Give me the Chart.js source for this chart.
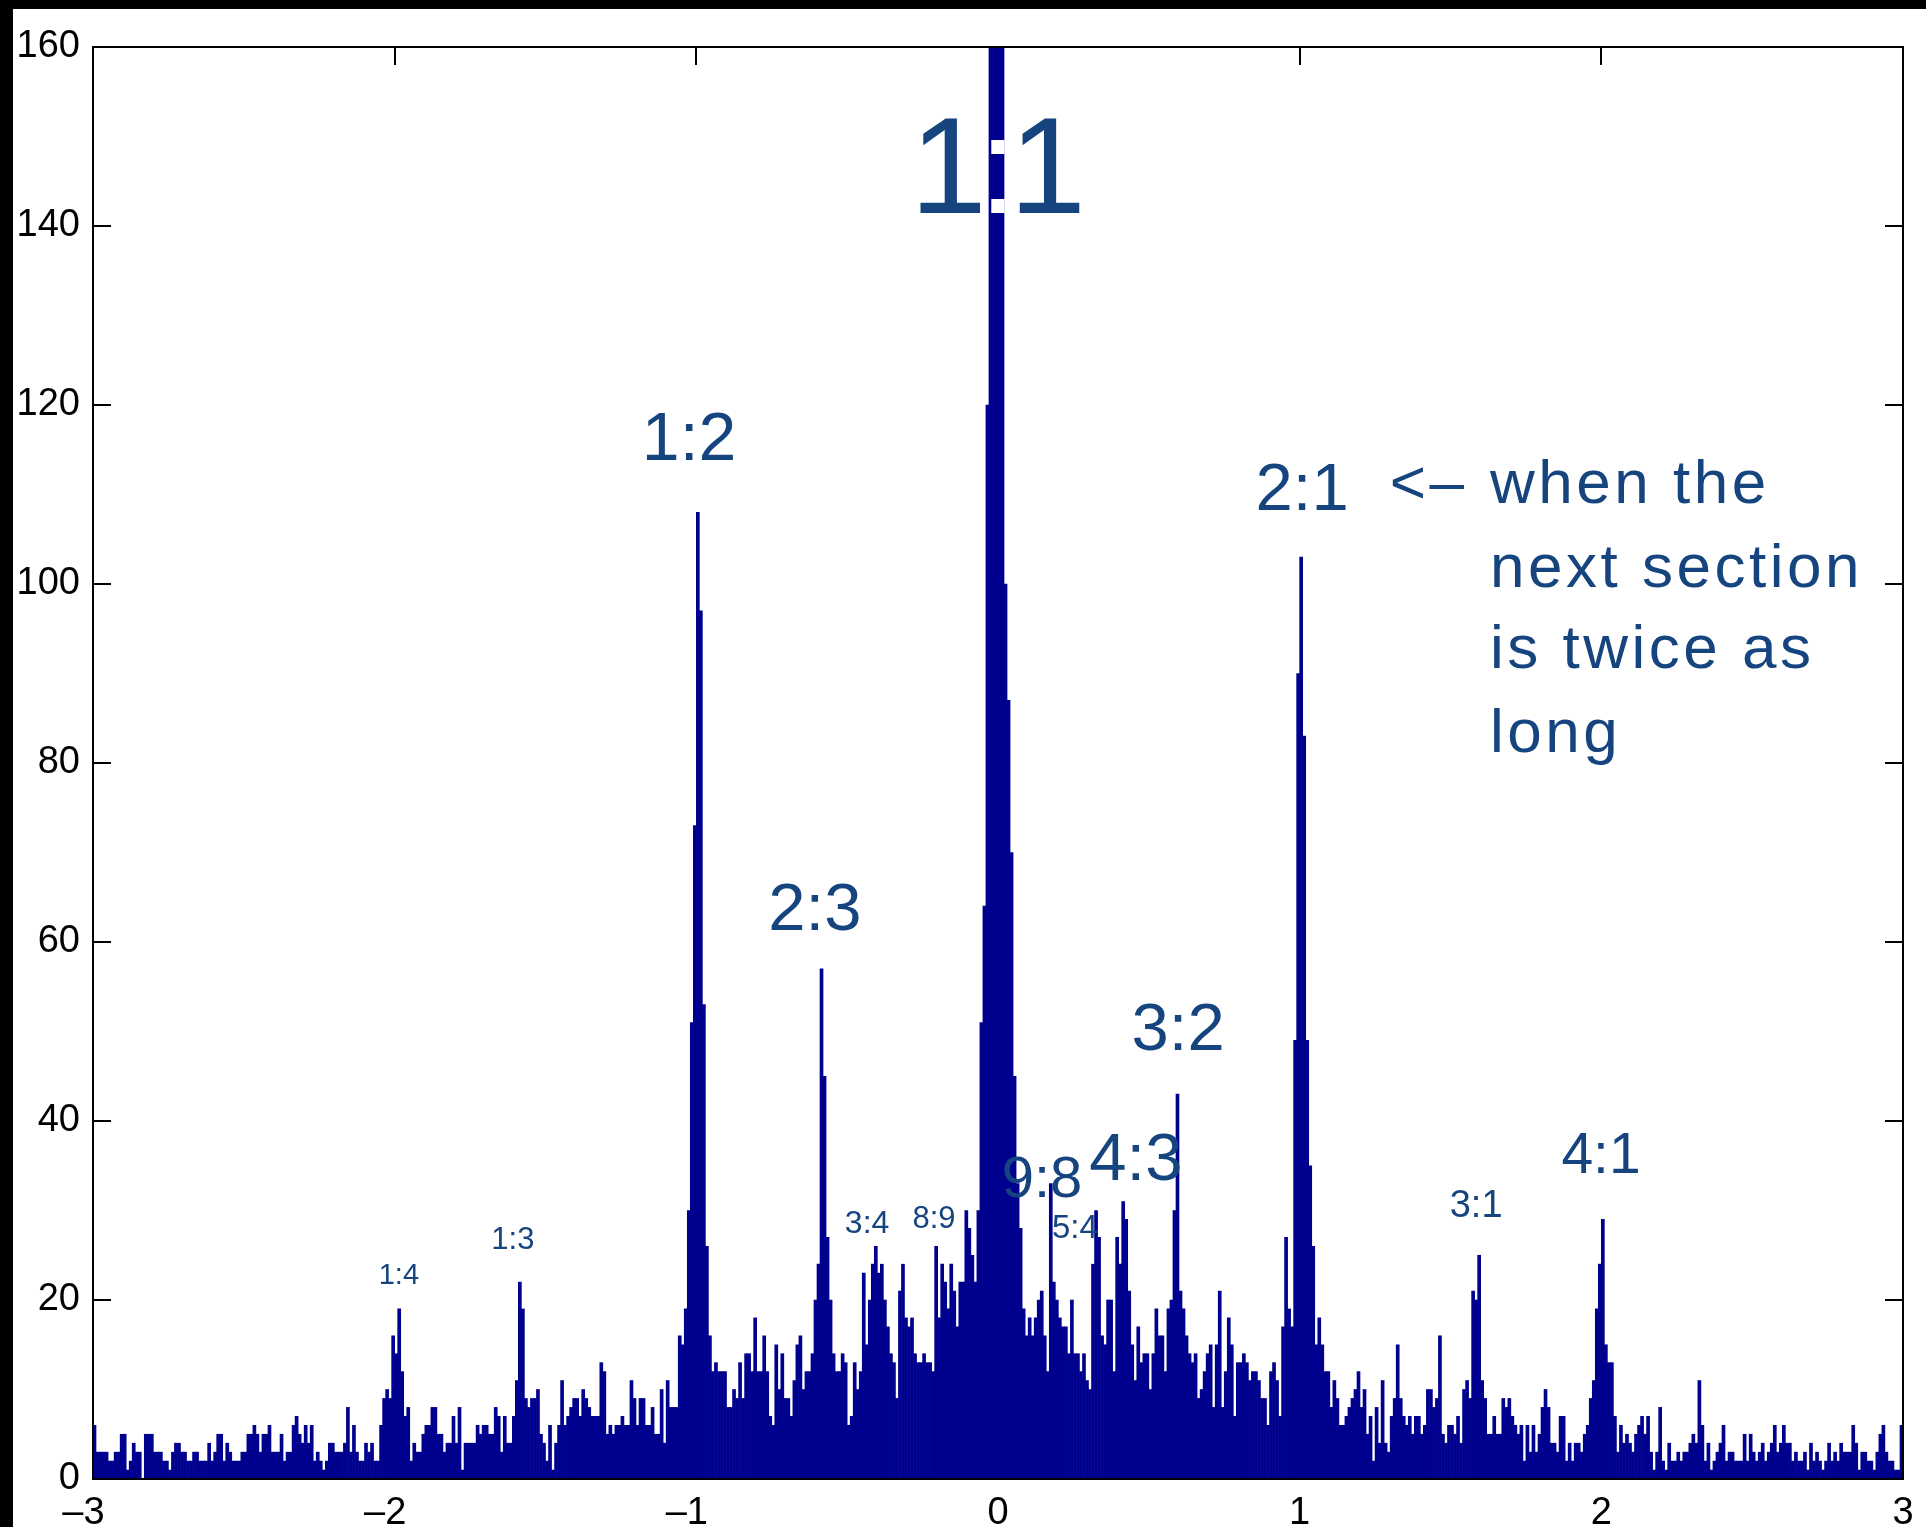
<!DOCTYPE html>
<html>
<head>
<meta charset="utf-8">
<script src="https://cdn.jsdelivr.net/npm/chart.js@4.4.1/dist/chart.umd.min.js"></script>
<style>
  html, body { margin: 0; padding: 0; background: #000; overflow: hidden; }
  #wrap { position: absolute; left: 0; top: 0; width: 1926px; height: 1560px; }
  canvas { display: block; }
</style>
</head>
<body>
<div id="wrap"><canvas id="c" width="1926" height="1560"></canvas></div>
<script>
// Histogram bins: start -3, width 0.01 (600 bins from -3 to 3)
const binStart = -3;
const binWidth = 0.01;

// counts per bin, grouped by unit interval of x
const binsM3 = [ // -3 .. -2
  6,3,3,3,3,2,2,3,3,5, 5,1,2,4,3,3,0,5,5,5, 3,3,3,2,2,1,3,4,4,3, 3,2,2,3,3,2,2,2,4,2,
  3,5,5,2,4,3,2,2,2,3, 3,5,5,6,5,3,5,5,6,3, 3,3,5,2,3,3,6,7,5,4, 6,4,6,2,3,2,1,2,4,4,
  3,3,3,4,8,3,6,3,2,2, 4,3,4,2,2,6,9,10,9,16
];
const binsM2 = [ // -2 .. -1
  14,19,12,7,8,2,4,3,3,5, 6,6,8,8,5,5,3,4,4,7, 4,8,1,4,4,4,4,6,5,6, 6,5,5,8,7,3,7,4,4,7,
  11,22,19,9,8,9,9,10,5,4, 2,6,1,4,6,11,6,7,8,9, 9,7,10,9,8,7,7,7,13,12, 5,6,5,6,6,7,6,6,11,9,
  6,9,9,6,6,8,5,5,10,4, 11,8,8,8,16,15,19,30,51,73
];
const binsM1 = [ // -1 .. 0
  108,97,53,26,16,12,13,12,12,12, 8,8,10,9,13,9,14,14,12,18, 12,12,16,12,7,6,15,10,14,9,
  9,7,11,15,16,10,12,12,14,20, 24,57,45,27,20,14,12,12,14,13, 6,7,13,10,12,23,15,20,24,26,
  23,24,20,17,14,13,9,21,24,18, 17,18,14,13,13,14,13,13,12,26, 18,24,22,19,24,21,17,22,22,30,
  28,25,22,30,51,64,120,200,250,300
];
const binsP0 = [ // 0 .. 1
  250,200,100,87,70,45,33,28,19,16, 18,16,18,20,21,16,12,33,22,20, 18,17,17,14,20,14,14,12,14,11,
  10,24,30,27,16,15,20,20,12,27, 24,31,29,21,15,11,17,13,14,14, 10,14,19,16,16,12,19,20,30,43,
  21,19,16,14,13,14,9,10,12,14, 15,8,15,21,8,12,18,15,7,13, 13,14,13,11,12,12,11,9,9,6,
  12,13,11,7,17,27,19,17,49,90
];
const binsP1 = [ // 1 .. 2
  103,83,49,35,26,15,18,15,12,12, 8,11,9,6,6,7,8,9,10,12, 8,10,5,7,2,8,4,11,4,3,
  7,9,15,9,7,6,7,5,7,7, 5,6,10,10,8,9,16,5,4,6, 6,5,7,4,10,11,9,21,20,25,
  11,9,5,5,7,5,5,9,8,9, 7,6,5,6,2,6,3,6,3,5, 8,10,8,4,4,3,7,7,2,4,
  2,4,4,3,5,6,9,11,19,24
];
const binsP2 = [ // 2 .. 3
  29,15,13,13,7,3,6,4,5,4, 3,5,6,7,5,7,3,1,3,8, 2,1,4,2,2,3,2,3,3,4, 5,4,11,6,2,4,1,2,3,4,
  6,2,3,3,2,2,2,5,2,5, 3,2,3,4,2,3,4,6,3,4, 6,4,4,2,3,2,2,3,1,4, 2,3,2,1,2,4,2,3,2,4,
  3,3,3,6,4,1,3,3,2,2, 1,3,5,6,3,2,2,1,1,6
];

const xTicks = [-3, -2, -1, 0, 1, 2, 3];
const yTicks = [0, 20, 40, 60, 80, 100, 120, 140, 160];

// ratio labels: text, x (log2 ratio), y (count level of baseline), font size
const labelText = ['1:1','1:2','2:3','3:2','2:1','4:1','4:3','9:8','5:4','8:9','3:4','1:4','1:3','3:1'];
const labelX    = [0.0, -1.024, -0.607, 0.597, 1.008, 1.999, 0.457, 0.146, 0.255, -0.212, -0.434, -1.986, -1.608, 1.585];
const labelY    = [141.4, 113.9, 61.3, 47.9, 108.3, 34.2, 33.4, 31.5, 26.9, 28.0, 27.5, 21.8, 25.7, 29.3];
const labelSize = [138, 68, 67, 67, 67, 57, 67, 58, 33, 31, 32, 29, 31, 38];
const labelSpacing = [-8, 0, 0, 0, 0, 0, 0, 0, 0, 0, 0, 0, 0, 0];

const arrowText = '<\u2013';
const arrowX = 1.299;
const noteLines = ['when the', 'next section', 'is twice as', 'long'];
const noteX = [1.631, 1.631, 1.631, 1.631];
const noteY = [109.1, 99.7, 90.6, 81.2];
const noteSize = 62;

const counts = [].concat(binsM3, binsM2, binsM1, binsP0, binsP1, binsP2);
const points = counts.map((c, i) => ({ x: binStart + binWidth * (i + 0.5), y: c }));

const FONT = '"Liberation Sans", Arial, Helvetica, sans-serif';
const TEXT_BLUE = '#15447f';

const framePlugin = {
  id: 'frame',
  beforeDraw(chart) {
    const ctx = chart.ctx;
    ctx.save();
    ctx.fillStyle = '#000';
    ctx.fillRect(0, 0, chart.width, chart.height);
    ctx.fillStyle = '#fff';
    ctx.fillRect(13, 9, chart.width - 13, chart.height - 9);
    ctx.restore();
  },
  beforeDatasetsDraw(chart) {
    const { ctx, chartArea: a, scales } = chart;
    ctx.save();
    ctx.strokeStyle = '#000';
    ctx.lineWidth = 2;
    ctx.beginPath();
    xTicks.forEach(v => {
      const px = Math.round(scales.x.getPixelForValue(v));
      ctx.moveTo(px, a.bottom); ctx.lineTo(px, a.bottom - 18);
      ctx.moveTo(px, a.top); ctx.lineTo(px, a.top + 18);
    });
    yTicks.forEach(v => {
      const py = Math.round(scales.y.getPixelForValue(v));
      ctx.moveTo(a.left, py); ctx.lineTo(a.left + 18, py);
      ctx.moveTo(a.right, py); ctx.lineTo(a.right - 18, py);
    });
    ctx.stroke();
    ctx.restore();
  },
  afterDatasetsDraw(chart) {
    const { ctx, chartArea: a, scales } = chart;
    ctx.save();
    ctx.strokeStyle = '#000';
    ctx.lineWidth = 2;
    ctx.strokeRect(a.left, a.top, a.right - a.left, a.bottom - a.top);
    ctx.textBaseline = 'alphabetic';
    ctx.textAlign = 'left';
    labelText.forEach((t, i) => {
      ctx.font = labelSize[i] + 'px ' + FONT;
      const cx = scales.x.getPixelForValue(labelX[i]);
      const by = scales.y.getPixelForValue(labelY[i]);
      const chars = Array.from(t);
      const widths = chars.map(ch => ctx.measureText(ch).width);
      const total = widths.reduce((s, w) => s + w, 0) + labelSpacing[i] * (chars.length - 1);
      let x0 = cx - total / 2;
      // glyph by glyph so the colon over the central bar can be drawn white
      chars.forEach((ch, k) => {
        ctx.fillStyle = (ch === ':' && i === 0) ? '#ffffff' : TEXT_BLUE;
        ctx.fillText(ch, x0, by);
        x0 += widths[k] + labelSpacing[i];
      });
    });
    ctx.fillStyle = TEXT_BLUE;
    ctx.font = noteSize + 'px ' + FONT;
    if ('letterSpacing' in ctx) ctx.letterSpacing = '3.5px';
    ctx.fillText(arrowText, scales.x.getPixelForValue(arrowX), scales.y.getPixelForValue(noteY[0]));
    noteLines.forEach((t, i) => {
      ctx.fillText(t, scales.x.getPixelForValue(noteX[i]), scales.y.getPixelForValue(noteY[i]));
    });
    ctx.restore();
  }
};

new Chart(document.getElementById('c'), {
  type: 'bar',
  data: {
    datasets: [{
      data: points,
      backgroundColor: '#00008f',
      borderWidth: 0,
      barPercentage: 1,
      categoryPercentage: 1
    }]
  },
  options: {
    responsive: false,
    animation: false,
    events: [],
    layout: { padding: { left: 0, right: 23, top: 47, bottom: 0 } },
    plugins: { legend: { display: false }, tooltip: { enabled: false } },
    scales: {
      x: {
        type: 'linear',
        min: -3, max: 3,
        offset: false,
        grid: { display: false, drawTicks: false },
        border: { display: false },
        afterBuildTicks: s => { s.ticks = xTicks.map(v => ({ value: v })); },
        afterFit: s => { s.height = 81; },
        ticks: {
          color: '#000',
          padding: 12,
          maxRotation: 0,
          autoSkip: false,
          font: { family: FONT, size: 38 },
          // minus hangs to the left so the digit itself sits centred on the tick
          callback: v => (v < 0 ? '\u2013' + Math.abs(v) + '\u2002' : String(v))
        }
      },
      y: {
        min: 0, max: 160,
        grid: { display: false, drawTicks: false },
        border: { display: false },
        afterBuildTicks: s => { s.ticks = yTicks.map(v => ({ value: v })); },
        afterFit: s => { s.width = 93; },
        ticks: {
          color: '#000',
          padding: 13,
          autoSkip: false,
          font: { family: FONT, size: 38 }
        }
      }
    }
  },
  plugins: [framePlugin]
});
</script>
</body>
</html>
